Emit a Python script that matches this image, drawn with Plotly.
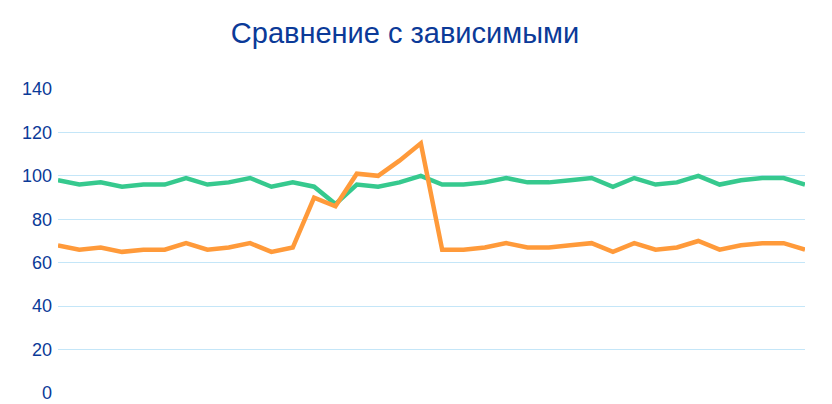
import plotly.graph_objects as go

x_idx = list(range(36))
green = [98, 96, 97, 95, 96, 96, 99, 96, 97, 99, 95, 97,
         95, 87, 96, 95, 97, 100, 96, 96, 97, 99, 97, 97,
         98, 99, 95, 99, 96, 97, 100, 96, 98, 99, 99, 96]
orange = [68, 66, 67, 65, 66, 66, 69, 66, 67, 69, 65, 67,
          90, 86, 101, 100, 107, 115, 66, 66, 67, 69, 67, 67,
          68, 69, 65, 69, 66, 67, 70, 66, 68, 69, 69, 66]
y_ticks = [0, 20, 40, 60, 80, 100, 120, 140]
title = "Сравнение с зависимыми"

# the page body has an 8px margin, so the figure is sized/offset to compensate
W, H = 824, 396

fig = go.Figure()
fig.add_trace(go.Scatter(x=x_idx, y=green, mode="lines",
                         line=dict(color="#36c98e", width=4.5), showlegend=False))
fig.add_trace(go.Scatter(x=x_idx, y=orange, mode="lines",
                         line=dict(color="#ff9a3a", width=4.5), showlegend=False))

fig.update_layout(
    width=W, height=H,
    margin=dict(l=50, r=27, t=81, b=11, autoexpand=False),
    paper_bgcolor="white", plot_bgcolor="white",
    title=dict(text=title, x=397 / W, xanchor="center", y=1 - 25 / H, yanchor="middle",
               font=dict(family="Liberation Sans, Arial", size=29, color="#0b3a98")),
    font=dict(family="Liberation Sans, Arial"),
)
fig.update_xaxes(range=[0, 35], showgrid=False, zeroline=False, showticklabels=False,
                 showline=False, ticks="", automargin=False)
fig.update_yaxes(range=[0, 140], tickvals=y_ticks, showgrid=True, gridcolor="#c4e6f8",
                 gridwidth=1, zeroline=False, showline=False, automargin=False,
                 tickfont=dict(size=18, color="#0b3a98", family="Liberation Sans, Arial"),
                 ticks="", ticklabelstandoff=5)
fig.write_html("out.html")
